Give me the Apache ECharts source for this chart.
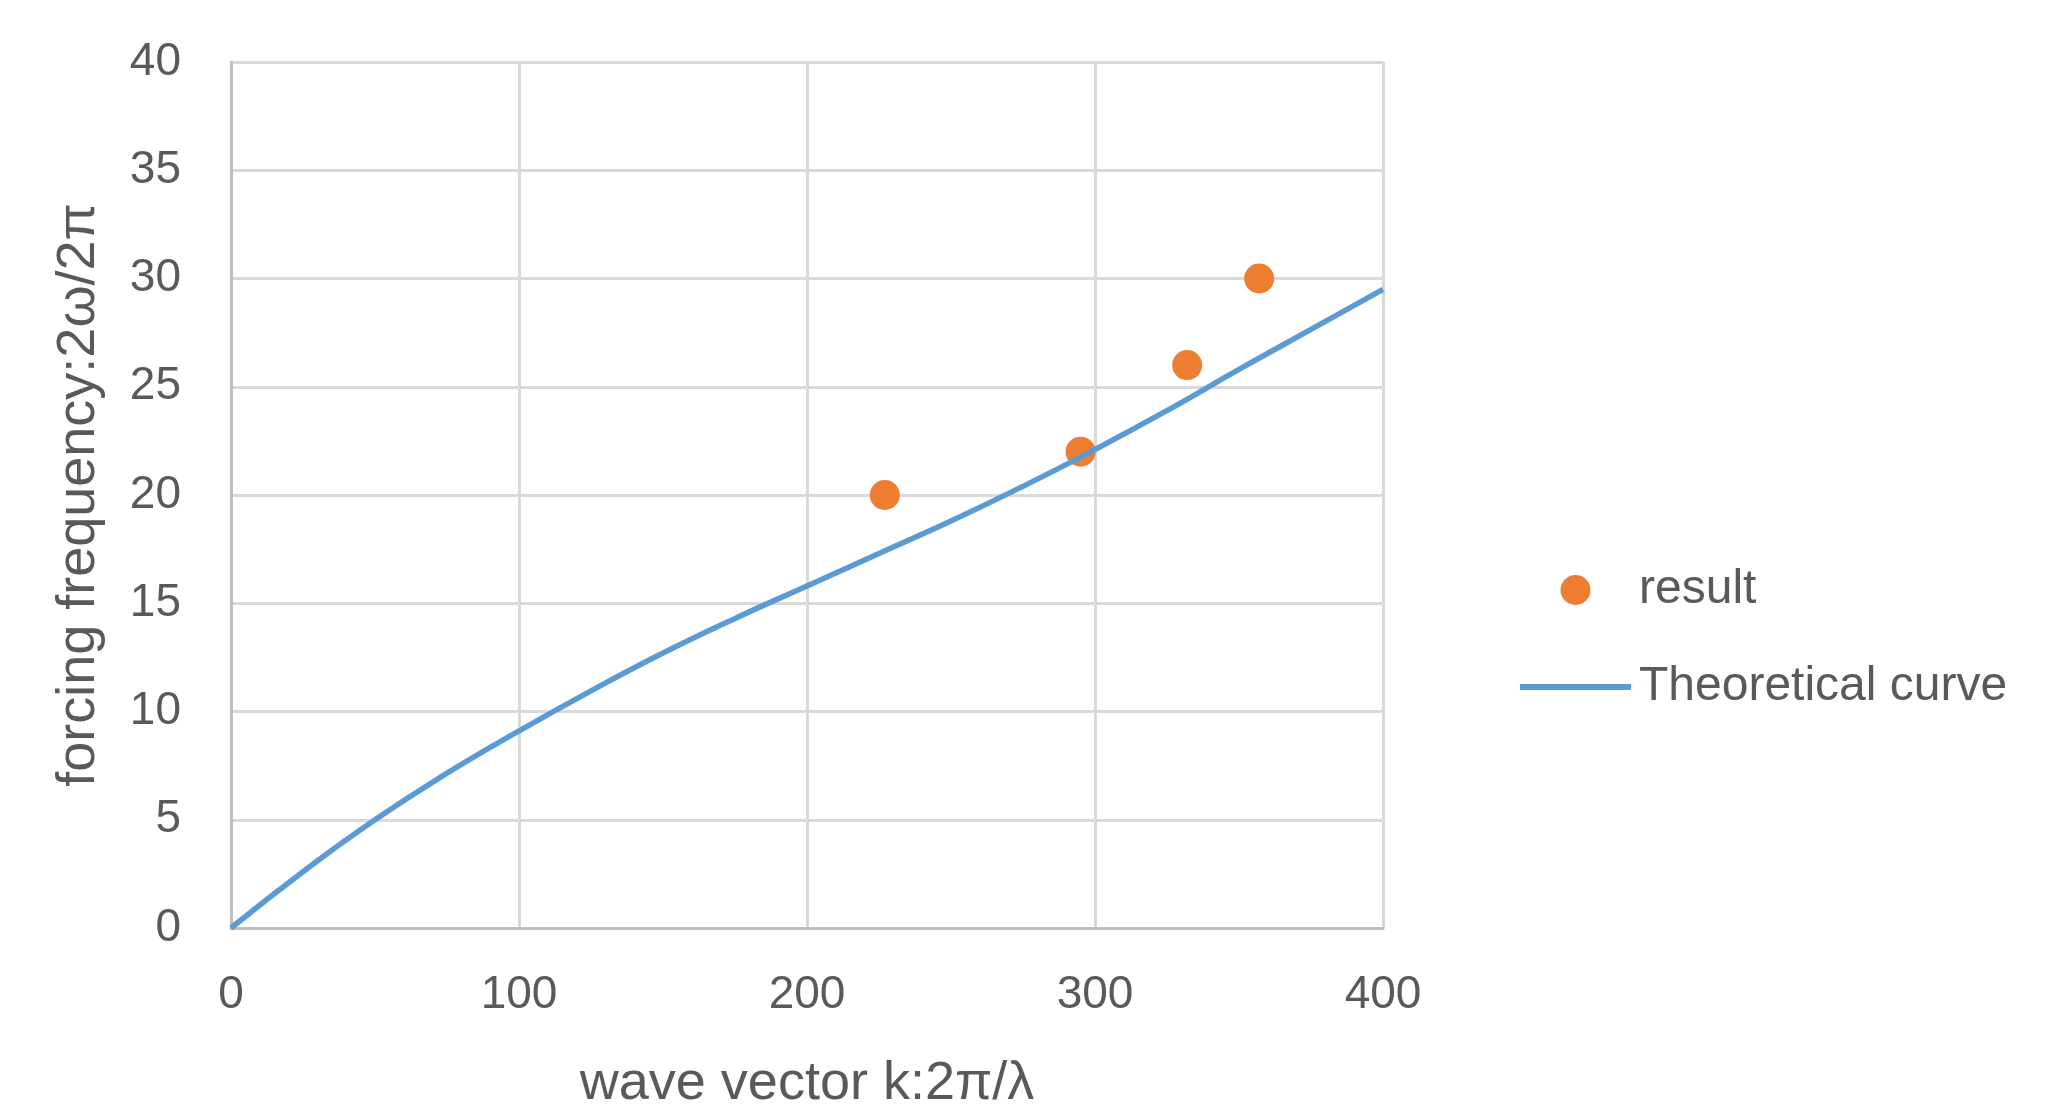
<!DOCTYPE html>
<html>
<head>
<meta charset="utf-8">
<script src="https://cdn.jsdelivr.net/npm/echarts@6/dist/echarts.min.js"></script>
<style>
    html, body { margin: 0; padding: 0; background: #fff; }
    #chart { width: 2069px; height: 1116px; }
</style>
</head>
<body>
<div id="chart"></div>
<script>
// measured points (wave vector k, forcing frequency)
const resultK = [227, 295, 332, 357]
const resultF = [20, 22, 26, 30]

// theoretical curve
const curveK = [0, 25, 50, 75, 100, 125, 150, 175, 200, 225, 250, 275, 300, 325, 350, 375, 400]
const curveF = [0, 2.6, 5.0, 7.15, 9.1, 10.95, 12.7, 14.3, 15.8, 17.3, 18.8, 20.4, 22.1, 23.9, 25.8, 27.65, 29.5]

const textColor = '#595959'
const fontFamily = '"Liberation Sans", Arial, sans-serif'

const chart = echarts.init(document.getElementById('chart'))

chart.setOption({
    animation: false,
    grid: { left: 231, top: 62, right: 686, bottom: 183 },
    legend: {
        orient: 'vertical',
        left: 1515,
        top: 561,
        itemWidth: 111,
        itemHeight: 30,
        itemGap: 49,
        textStyle: { color: textColor, fontSize: 48, fontFamily: fontFamily, padding: [0, 0, 0, 3] },
        data: [
            { name: 'result', icon: 'circle' },
            { name: 'Theoretical curve', icon: 'path://M0,0H100V5.5H0Z' },
        ],
    },
    xAxis: {
        type: 'value',
        min: 0,
        max: 400,
        interval: 100,
        name: 'wave vector k:2π/λ',
        nameLocation: 'middle',
        nameGap: 129,
        nameTextStyle: { color: textColor, fontSize: 54, fontFamily: fontFamily },
        axisLine: { lineStyle: { color: '#bfbfbf', width: 3 } },
        axisTick: { show: false },
        axisLabel: { color: textColor, fontSize: 46, fontFamily: fontFamily, margin: 44 },
        splitLine: { lineStyle: { color: '#d9d9d9', width: 3 } },
    },
    yAxis: {
        type: 'value',
        min: 0,
        max: 40,
        interval: 5,
        name: 'forcing frequency:2ω/2π',
        nameLocation: 'middle',
        nameGap: 125,
        nameTextStyle: { color: textColor, fontSize: 54, fontFamily: fontFamily },
        axisLine: { show: true, lineStyle: { color: '#bfbfbf', width: 3 } },
        axisTick: { show: false },
        axisLabel: { color: textColor, fontSize: 46, fontFamily: fontFamily, margin: 50 },
        splitLine: { lineStyle: { color: '#d9d9d9', width: 3 } },
    },
    series: [
        {
            name: 'result',
            type: 'scatter',
            symbol: 'circle',
            symbolSize: 30,
            itemStyle: { color: '#ed7d31', opacity: 1 },
            data: resultK.map((k, i) => [k, resultF[i]]),
            z: 3,
        },
        {
            name: 'Theoretical curve',
            type: 'line',
            symbol: 'none',
            smooth: true,
            lineStyle: { color: '#5b9bd5', width: 5.5 },
            itemStyle: { color: '#5b9bd5' },
            data: curveK.map((k, i) => [k, curveF[i]]),
            z: 4,
        },
    ],
})
</script>
</body>
</html>
